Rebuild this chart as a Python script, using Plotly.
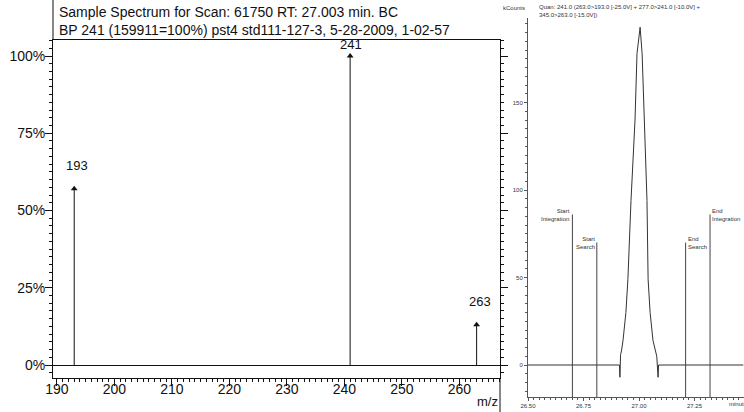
import plotly.graph_objects as go

W, H = 744, 412

# ---------------- mass spectrum (left panel) ----------------
mz = [193, 241, 263]
rel_int = [57, 100, 13]
mz_ticks = [190, 200, 210, 220, 230, 240, 250, 260]
pct_ticks = [0, 25, 50, 75, 100]
pct_labels = ["0%", "25%", "50%", "75%", "100%"]
title_l1 = "Sample Spectrum for Scan: 61750 RT: 27.003 min. BC"
title_l2 = "BP 241 (159911=100%) pst4 std111-127-3, 5-28-2009, 1-02-57"

# ---------------- chromatogram (right panel) ----------------
rt = [26.50, 26.90, 26.912, 26.914, 26.917, 26.921, 26.928, 26.941, 26.950,
      26.964, 26.977, 26.982, 26.991, 27.005, 27.014, 27.023, 27.027, 27.036,
      27.041, 27.050, 27.063, 27.080, 27.086, 27.088, 27.47]
kcounts = [0, 0, 0, -7, 6, 8, 14, 30, 49,
           94, 129, 140, 178, 193, 178, 140, 129, 94,
           49, 30, 14, 5, -7, 0, 0]
event_names = ["Start<br>Integration", "Start<br>Search", "End<br>Search", "End<br>Integration"]
event_rt = [26.70, 26.81, 27.21, 27.32]
event_h = [86, 70, 70, 86]
rt_ticks = [26.50, 26.75, 27.00, 27.25]
rt_labels = ["26.50", "26.75", "27.00", "27.25"]
kc_ticks = [0, 50, 100, 150]
quan_text = "Quan: 241.0 (263.0>193.0 [-25.0V] + 277.0>241.0 [-10.0V] +<br>345.0>263.0 [-15.0V])"


def px(x):
    return x / W


def py(y):
    return 1 - y / H


FONT = "Liberation Sans, Arial, sans-serif"
INK = "#111111"
GREY = "#555555"

# axis ranges (from pixel calibration)
x1_range = [190 - 4 / 5.8, 190 + 447 / 5.8]
y1_range = [-13 / 3.09, 325 / 3.09]
x2_range = [26.5, 26.5 + 216 / 222]
y2_range = [-32 / 1.75, 347 / 1.75]

fig = go.Figure()

# spectrum sticks
sx, sy = [], []
for m, v in zip(mz, rel_int):
    sx += [m, m, None]
    sy += [0, v, None]
fig.add_trace(go.Scatter(x=sx, y=sy, mode="lines", line=dict(color=INK, width=1),
                         xaxis="x", yaxis="y", hoverinfo="skip"))
fig.add_trace(go.Scatter(x=mz, y=rel_int, mode="markers",
                         marker=dict(symbol="triangle-up", size=6, color=INK),
                         xaxis="x", yaxis="y", hoverinfo="skip"))

# chromatogram
fig.add_trace(go.Scatter(x=rt, y=kcounts, mode="lines", line=dict(color="#333333", width=1),
                         xaxis="x2", yaxis="y2", hoverinfo="skip"))
ex, ey = [], []
for t, h in zip(event_rt, event_h):
    ex += [t, t, None]
    ey += [y2_range[0], h, None]
fig.add_trace(go.Scatter(x=ex, y=ey, mode="lines", line=dict(color="#444444", width=1),
                         xaxis="x2", yaxis="y2", hoverinfo="skip"))

annotations = []
for m, v in zip(mz, rel_int):
    annotations.append(dict(x=m, y=v, xref="x", yref="y", text=str(m), showarrow=False,
                            yanchor="bottom", xshift=3 if v < 90 else 1,
                            yshift=14 if v < 90 else 2,
                            font=dict(family=FONT, size=13, color=INK)))
for name, t, h in zip(event_names, event_rt, event_h):
    left = name.startswith("Start")
    annotations.append(dict(x=t, y=h, xref="x2", yref="y2", text=name, showarrow=False,
                            xanchor="right" if left else "left",
                            align="right" if left else "left",
                            yanchor="middle", xshift=0,
                            font=dict(family=FONT, size=6, color="#333333")))

annotations += [
    dict(x=px(57), y=py(12), xref="paper", yref="paper", text=title_l1, showarrow=False,
         xanchor="left", yanchor="middle", font=dict(family=FONT, size=14, color=INK)),
    dict(x=px(57), y=py(30), xref="paper", yref="paper", text=title_l2, showarrow=False,
         xanchor="left", yanchor="middle", font=dict(family=FONT, size=14, color=INK)),
    dict(x=px(487), y=py(401), xref="paper", yref="paper", text="m/z", showarrow=False,
         xanchor="center", yanchor="middle", font=dict(family=FONT, size=13, color=INK)),
    dict(x=px(527), y=py(8), xref="paper", yref="paper", text="kCounts", showarrow=False,
         xanchor="right", yanchor="middle", font=dict(family=FONT, size=6, color="#333333")),
    dict(x=px(537), y=py(11), xref="paper", yref="paper", text=quan_text, showarrow=False,
         xanchor="left", yanchor="middle", align="left",
         font=dict(family=FONT, size=6, color="#333333")),
    dict(x=px(727), y=py(404), xref="paper", yref="paper", text="minutes", showarrow=False,
         xanchor="left", yanchor="middle", font=dict(family=FONT, size=6, color="#333333")),
]

shapes = [
    dict(type="line", xref="paper", yref="paper", x0=px(53), x1=px(53), y0=py(40), y1=1,
         line=dict(color=INK, width=1)),
    dict(type="line", xref="paper", yref="paper", x0=px(500), x1=px(500), y0=0, y1=py(378),
         line=dict(color=INK, width=1)),
]

fig.update_layout(
    width=W, height=H, margin=dict(l=0, r=0, t=0, b=0, autoexpand=False),
    paper_bgcolor="white", plot_bgcolor="white", showlegend=False,
    annotations=annotations, shapes=shapes,
    xaxis=dict(domain=[px(53), px(500)], range=x1_range, anchor="y", automargin=False,
               tickmode="array", tickvals=mz_ticks, ticks="outside", ticklen=7,
               tickcolor=INK, showline=True, linecolor=INK, linewidth=1, mirror=True,
               showgrid=False, zeroline=False, ticklabelstandoff=-9,
               minor=dict(dtick=1, ticks="outside", ticklen=3, tickcolor=INK, showgrid=False),
               tickfont=dict(family=FONT, size=14, color=INK)),
    yaxis=dict(domain=[py(378), py(40)], range=y1_range, anchor="x", automargin=False,
               tickmode="array", tickvals=pct_ticks, ticktext=pct_labels, ticks="outside",
               ticklen=7, tickcolor=INK, showline=True, linecolor=INK, linewidth=1,
               mirror="ticks", showgrid=False, zeroline=True, zerolinecolor=INK,
               zerolinewidth=1, ticklabelstandoff=-3,
               minor=dict(dtick=2.5, ticks="outside", ticklen=3, tickcolor=INK, showgrid=False),
               tickfont=dict(family=FONT, size=14, color=INK)),
    xaxis2=dict(domain=[px(528), 1], range=x2_range, anchor="y2", automargin=False,
                tickmode="array", tickvals=rt_ticks, ticktext=rt_labels, ticks="outside",
                ticklen=3, tickcolor=GREY, showline=True, linecolor=GREY, linewidth=1,
                showgrid=False, zeroline=False,
                minor=dict(dtick=0.025, ticks="outside", ticklen=2, tickcolor=GREY, showgrid=False),
                tickfont=dict(family=FONT, size=6, color="#333333")),
    yaxis2=dict(domain=[py(397), py(18)], range=y2_range, anchor="x2", automargin=False,
                tickmode="array", tickvals=kc_ticks, ticks="outside", ticklen=3,
                tickcolor=GREY, showline=True, linecolor=GREY, linewidth=1,
                showgrid=False, zeroline=False,
                minor=dict(dtick=5, ticks="outside", ticklen=2, tickcolor=GREY, showgrid=False),
                tickfont=dict(family=FONT, size=6, color="#333333")),
)

fig.write_html("out.html", config={"displayModeBar": False},
               post_script="document.body.style.margin='0px';"
                           "document.body.style.overflow='hidden';")
